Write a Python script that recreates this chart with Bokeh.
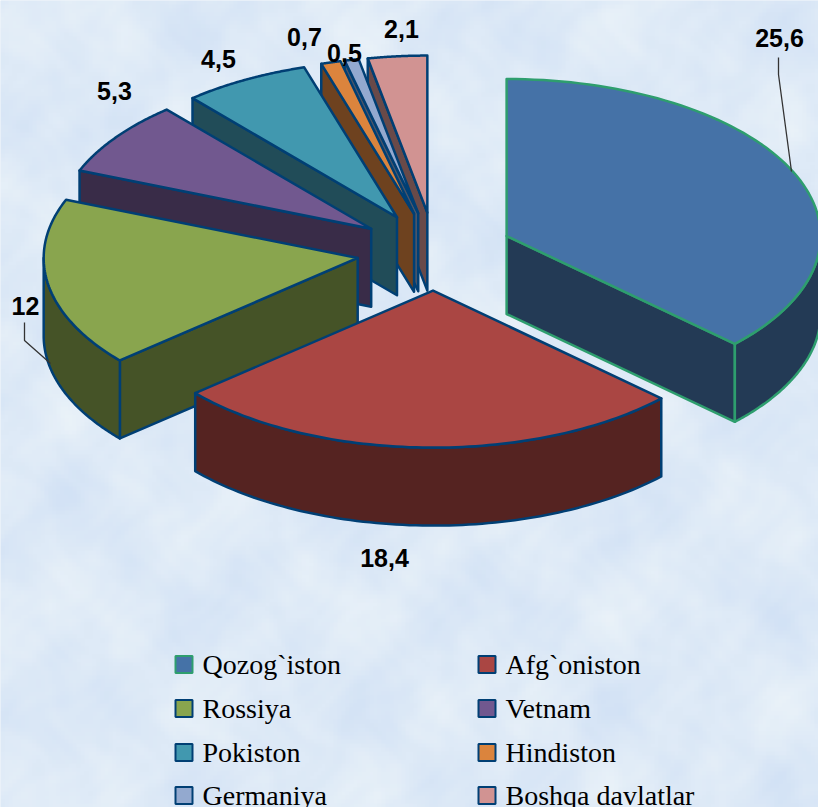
import numpy as np
from bokeh.plotting import figure
from bokeh.models import Range1d
from bokeh.embed import file_html
from bokeh.resources import INLINE
from bokeh.core.properties import value

categories = ["Qozog`iston", "Afg`oniston", "Rossiya", "Vetnam", "Pokiston", "Hindiston", "Germaniya", "Boshqa davlatlar"]
values = [25.6, 18.4, 12, 5.3, 4.5, 0.7, 0.5, 2.1]
value_labels = ["25,6", "18,4", "12", "5,3", "4,5", "0,7", "0,5", "2,1"]
top_colors = ["#4572A7", "#AA4643", "#89A54E", "#71588F", "#4198AF", "#DB843D", "#93A9CF", "#D19392"]
side_colors = ["#233A55", "#552321", "#455327", "#392C48", "#214C58", "#6E421F", "#4A5568", "#694A49"]
edge_colors = ["#2E9E6E", "#003F74", "#003F74", "#003F74", "#003F74", "#003F74", "#003F74", "#003F74"]
label_x = [779, 384, 25, 114, 218, 304, 344, 401]
label_y = [37, 557, 305, 90, 58, 36, 52, 28]
BG = "#DDEAF7"

W, H = 818, 807
CX, CY, A, B, DEPTH, EXPLODE = 434.3, 251, 314, 157, 78, 0.249

p = figure(width=W, height=H, output_backend="svg", toolbar_location=None,
           x_range=Range1d(0, W), y_range=Range1d(H, 0),
           background_fill_color=BG, border_fill_color=BG, outline_line_color=None, min_border=0)
p.axis.visible = False
p.grid.visible = False

# soft mottled backdrop (decoration only, carries no data)
yy, xx = np.mgrid[0:H // 4, 0:W // 4]
m = (np.sin(xx * 0.09) * np.sin(yy * 0.13 + 0.8)
     + 0.7 * np.sin(xx * 0.21 + 1.3) * np.sin(yy * 0.17)
     + 0.5 * np.sin(xx * 0.37 + 0.6 + np.sin(yy * 0.19) * 1.5) * np.sin(yy * 0.31 + np.sin(xx * 0.14) * 1.5)
     + 0.3 * np.sin(xx * 0.71 + np.sin(yy * 0.29) * 2.0) * np.sin(yy * 0.59 + np.sin(xx * 0.23) * 2.0))
img = np.zeros(m.shape, dtype=np.uint32)
view = img.view(np.uint8).reshape(m.shape + (4,))
view[..., 0] = np.clip(222 + 5.5 * m, 0, 255)
view[..., 1] = np.clip(234 + 3.8 * m, 0, 255)
view[..., 2] = np.clip(247 + 0.8 * m, 0, 255)
view[..., 3] = 255
p.image_rgba(image=[img], x=0, y=0, dw=W, dh=H)


def rim(cx, cy, a0, a1, n=80):
    t = np.radians(np.linspace(a0, a1, n))
    return cx + A * np.sin(t), cy - B * np.cos(t)


total = sum(values)
angles = np.concatenate([[0], np.cumsum(values) / total * 360])
draw_order = [7, 6, 5, 4, 3, 2, 1, 0]
for i in draw_order:
    a0, a1 = angles[i], angles[i + 1]
    mid = np.radians((a0 + a1) / 2)
    cx = CX + EXPLODE * A * np.sin(mid)
    cy = CY - EXPLODE * B * np.cos(mid)
    kw = dict(line_color=edge_colors[i], line_width=2.5, line_join="round")
    # radial walls
    for ang, show in ((a0, 180 < a0 < 360), (a1, 0 < a1 < 180)):
        if show:
            ex, ey = rim(cx, cy, ang, ang, 1)
            xs = [cx, ex[0], ex[0], cx]
            ys = [cy, ey[0], ey[0] + DEPTH, cy + DEPTH]
            p.patch(xs, ys, fill_color=side_colors[i], **kw)
    # outer rim wall
    r0, r1 = max(a0, 90), min(a1, 270)
    if r1 > r0:
        rx, ry = rim(cx, cy, r0, r1)
        xs = np.concatenate([rx, rx[::-1]])
        ys = np.concatenate([ry, ry[::-1] + DEPTH])
        p.patch(xs, ys, fill_color=side_colors[i], **kw)
    # top
    rx, ry = rim(cx, cy, a0, a1)
    p.patch(np.concatenate([[cx], rx]), np.concatenate([[cy], ry]), fill_color=top_colors[i], **kw)

# leader lines
p.line([778, 778, 791], [57, 74, 171], line_color="#333333", line_width=1.3)
p.line([24, 24, 50], [322, 340, 363], line_color="#333333", line_width=1.3)

p.text(label_x, label_y, text=value_labels, text_font=value("Liberation Sans"), text_font_style="bold",
       text_font_size="25px", text_color="#000000", text_align="center", text_baseline="middle")

# legend
leg_x = [183.5, 486.5] * 4
leg_y = [664, 664, 708, 708, 752, 752, 795, 795]
p.rect(leg_x, leg_y, width=17, height=17, fill_color=top_colors, line_color=edge_colors, line_width=2)
p.text([x + 18.5 for x in leg_x], leg_y, text=categories,
       text_font=value("Liberation Serif"), text_font_size="28px", text_color="#000000",
       text_align="left", text_baseline="middle")

open("out.html", "w").write(file_html(p, INLINE))
